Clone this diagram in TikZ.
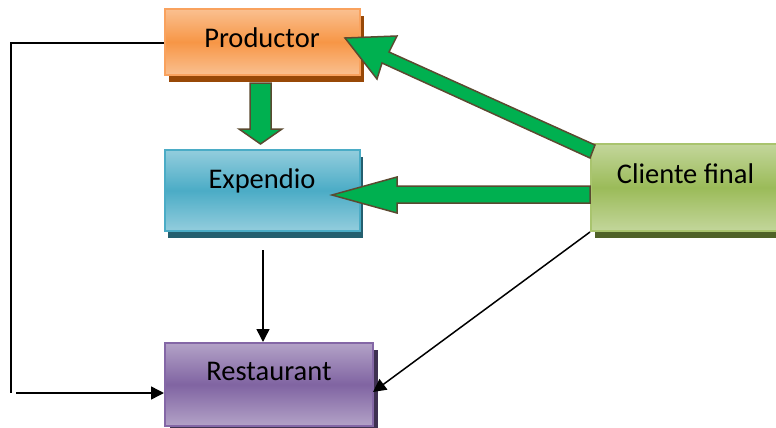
\documentclass[tikz,border=0pt]{standalone}
\usepackage{fontspec}
\setmainfont{Carlito}
\usetikzlibrary{arrows.meta,shadows}
\definecolor{oL}{HTML}{FAC090}\definecolor{oB}{HTML}{F79646}\definecolor{oS}{HTML}{984807}\definecolor{oD}{HTML}{F9A25E}
\definecolor{bL}{HTML}{93CDDD}\definecolor{bB}{HTML}{4BACC6}\definecolor{bS}{HTML}{245F6F}\definecolor{bD}{HTML}{4BACC6}
\definecolor{gL}{HTML}{C3D69B}\definecolor{gB}{HTML}{9BBB59}\definecolor{gS}{HTML}{4F6228}\definecolor{gD}{HTML}{A9C46E}
\definecolor{pL}{HTML}{B3A2C7}\definecolor{pB}{HTML}{8064A2}\definecolor{pS}{HTML}{3F3151}\definecolor{pD}{HTML}{8467A6}
\definecolor{arrG}{HTML}{00B050}\definecolor{arrD}{HTML}{5A4A30}
\tikzset{
  box/.style n args={4}{rectangle, anchor=north west, minimum width=#1, minimum height=#2, inner sep=0pt,
     draw=#3D, line width=2pt, top color=#3L, bottom color=#3L, middle color=#3B,
     drop shadow={shadow xshift=#4pt, shadow yshift=-7pt, fill=#3S, opacity=1}},
  lbl/.style={anchor=base, font=\fontsize{28.5}{34}\selectfont, text=black},
  blockarrow/.style={fill=arrG, draw=arrD, line width=1.5pt, line join=miter},
  conn/.style={draw=black, line width=1.5pt, -{Triangle[length=13pt,width=13pt]}},
  plain/.style={draw=black, line width=1.5pt}
}
\begin{document}
\begin{tikzpicture}[x=1pt,y=-1pt]
\useasboundingbox (0,0) rectangle (776,428);
% boxes
\node[box={195pt}{66pt}{o}{4}] (prod) at (164,8) {};
\node[box={195pt}{81pt}{b}{3}] (exp) at (164,149) {};
\node[box={194pt}{87pt}{g}{4}] (cli) at (590,143) {};
\node[box={208pt}{83pt}{p}{5}] (rest) at (164,342) {};
% labels
\node[lbl] (tprod) at (262,48) {Productor};
\node[lbl] (texp) at (262,188) {Expendio};
\node[lbl] (tcli) at (685.5,183) {Cliente final};
\node[lbl] (trest) at (269,380) {Restaurant};
% black connectors
\coordinate (bendtop) at (11,43);
\coordinate (bendbot) at (11,393);
\coordinate (restin) at (164,393);
\coordinate (restin2) at (373,392);
\coordinate (expout) at (263,250);
\draw[plain] (prod.west |- bendtop) -- (bendtop) -- (bendbot);
\draw[conn] ([xshift=5pt]bendbot) -- (restin);
\draw[conn] (expout) -- (expout |- rest.north);
\draw[conn] (cli.south west) -- (restin2);
% green block arrows
\draw[blockarrow] (250,83) -- (271,83) -- (271,129) -- (282,129) -- (260.5,144) -- (239,129) -- (250,129) -- cycle;
\draw[blockarrow] (345,38) -- (397,36) -- (389,52) -- (595,145) -- (590,158) -- (382,63) -- (377,79) -- cycle;
\draw[blockarrow] (332,195) -- (397,177) -- (397,186) -- (590,186) -- (590,203) -- (397,203) -- (397,213) -- cycle;
\end{tikzpicture}
\end{document}
